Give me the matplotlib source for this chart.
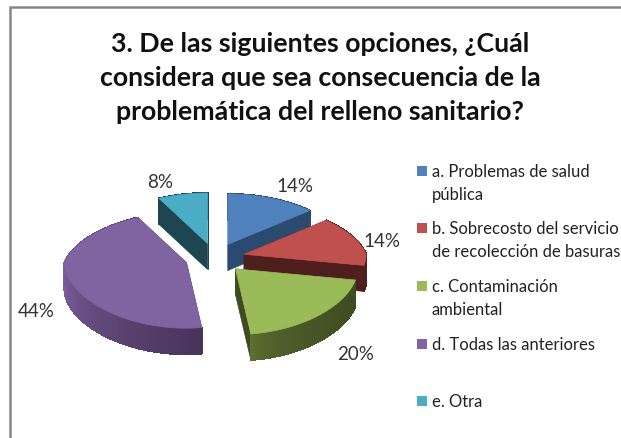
import numpy as np
import matplotlib
matplotlib.use("Agg")
import matplotlib.pyplot as plt
from matplotlib.patches import Polygon, Rectangle

title = "3. De las siguientes opciones, ¿Cuál\nconsidera que sea consecuencia de la\nproblemática del relleno sanitario?"
values = [14, 14, 20, 44, 8]
legend_lines = [
    ["a. Problemas de salud", "pública"],
    ["b. Sobrecosto del servicio", "de recolección de basuras"],
    ["c. Contaminación", "ambiental"],
    ["d. Todas las anteriores"],
    ["e. Otra"],
]
top_colors = ["#4F81BD", "#C0504D", "#9BBB59", "#8064A2", "#4BACC6"]
cut_colors = ["#2A4A70", "#4F1F1D", "#3F4C22", "#47345A", "#1D4651"]
wall_light = ["#2A4A70", "#4F1F1D", "#5F7433", "#7C5E9C", "#1D4651"]
wall_dark = ["#2A4A70", "#4F1F1D", "#3F4C22", "#47345A", "#1D4651"]
label_pos = [(295, 187), (382, 242), (356, 355), (36, 312), (160, 183)]
legend_y = [172, 229, 287, 345, 402]

CENTER = (215, 259)
EXPLODE = 30
RX = 122
RY = 58
DEPTH = 26


def rim(theta):
    # flattened circle, the far side is narrower than the near side
    x = RX * np.sin(theta) * (1 - 0.2 * np.maximum(np.cos(theta), 0))
    y = -RY * np.cos(theta) * (1 - 0.13 * np.cos(theta))
    return x, y


def mix(c1, c2, t):
    a = np.array(matplotlib.colors.to_rgb(c1))
    b = np.array(matplotlib.colors.to_rgb(c2))
    return tuple(a + (b - a) * t)


fig = plt.figure(figsize=(6.21, 4.39), dpi=100)
ax = fig.add_axes([0, 0, 1, 1])
ax.set_xlim(0, 621)
ax.set_ylim(439, 0)
ax.axis("off")

# chart border, only top and left are inside the crop
ax.plot([621, 9.5, 9.5], [7.5, 7.5, 439], color="#868686", lw=1.8, solid_joinstyle="miter")

ax.text(320, 78, title, ha="center", va="center", fontsize=19.3, fontweight="bold",
        family="Lato", color="#111111", linespacing=1.5)

edges = np.cumsum([0] + values) / sum(values) * 2 * np.pi

# back slices first so the front ones cover them
for i in [4, 0, 1, 2, 3]:
    a0, a1 = edges[i], edges[i + 1]
    mid = (a0 + a1) / 2
    cx = CENTER[0] + EXPLODE * np.sin(mid)
    cy = CENTER[1] - EXPLODE * 0.5 * np.cos(mid)
    th = np.linspace(a0, a1, 120)
    xs, ys = rim(th)
    xs = xs + cx
    ys = ys + cy

    # cut faces
    for k in [0, -1]:
        ax.add_patch(Polygon([(cx, cy), (xs[k], ys[k]), (xs[k], ys[k] + DEPTH), (cx, cy + DEPTH)],
                             fc=cut_colors[i], ec=cut_colors[i], lw=0.5))
    # outer wall, shaded left to right
    for j in range(len(th) - 1):
        t = ((xs[j] - xs.min()) / (xs.max() - xs.min())) ** 0.5
        c = mix(wall_light[i], wall_dark[i], t)
        ax.add_patch(Polygon([(xs[j], ys[j]), (xs[j + 1], ys[j + 1]),
                              (xs[j + 1], ys[j + 1] + DEPTH), (xs[j], ys[j] + DEPTH)],
                             fc=c, ec=c, lw=0.8, antialiased=False))
    # top
    ax.add_patch(Polygon(list(zip(xs, ys)) + [(cx, cy)], fc=top_colors[i], ec=top_colors[i], lw=0.5))

for v, (x, y) in zip(values, label_pos):
    ax.text(x, y, f"{v}%", ha="center", va="center", fontsize=13.5, family="Lato", color="#333333")

for lines, y, c in zip(legend_lines, legend_y, top_colors):
    ax.add_patch(Rectangle((417, y - 5), 10, 10, fc=c, ec="none"))
    for n, line in enumerate(lines):
        ax.text(432, y + n * 23, line, ha="left", va="center", fontsize=12.0,
                family="Lato", color="#222222", clip_on=True)

fig.savefig("out.png", dpi=100)
